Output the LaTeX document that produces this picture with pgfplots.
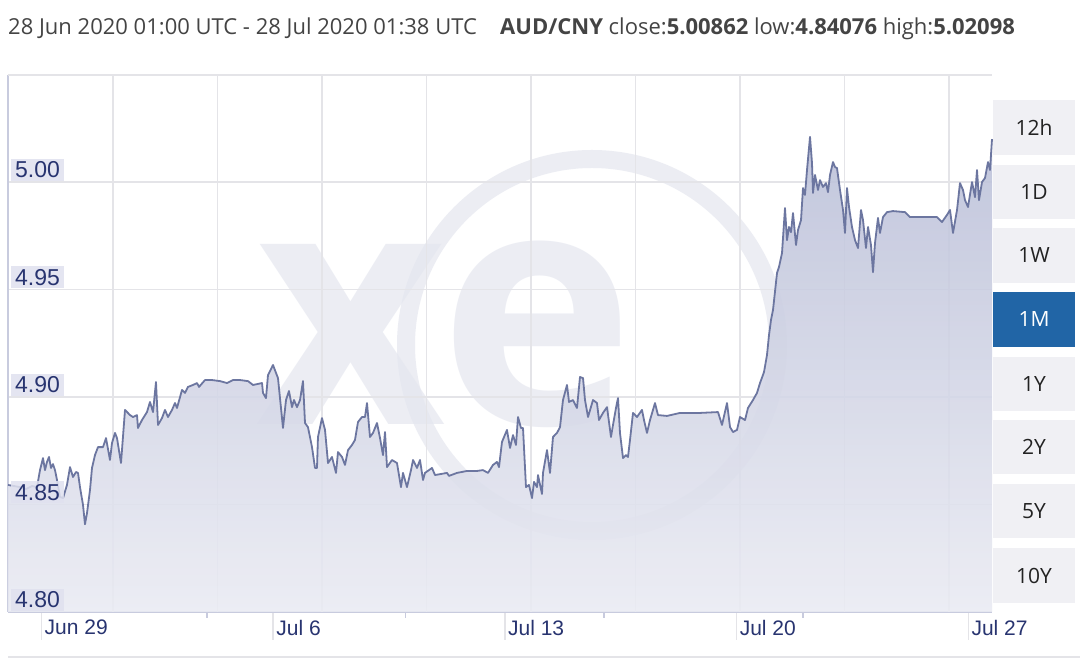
\documentclass[border=0pt]{standalone}
\usepackage{fontspec}
\setmainfont{Open Sans}
\newfontfamily\arialf{Liberation Sans}
\usepackage{pgfplots}
\usepackage{pgfplotstable}
\pgfplotsset{compat=1.18}
\definecolor{titlegray}{RGB}{68,68,68}
\definecolor{navy}{RGB}{40,52,112}
\definecolor{linec}{RGB}{108,118,160}
\definecolor{filltop}{RGB}{186,191,216}
\definecolor{fillbot}{RGB}{234,235,243}
\definecolor{gridc}{RGB}{228,228,232}
\definecolor{labbg}{RGB}{224,225,239}
\definecolor{btnbg}{RGB}{240,240,244}
\definecolor{btnsel}{RGB}{33,101,166}
\definecolor{axisc}{RGB}{200,203,222}
\definecolor{wm}{RGB}{228,230,239}
\definecolor{btntext}{RGB}{34,34,34}
\tikzset{ylab/.style={anchor=south west, xshift=3pt, yshift=1pt, text=navy, font=\arialf\fontsize{23}{23}\selectfont, fill=labbg, fill opacity=0.85, text opacity=1, inner xsep=4pt, inner ysep=3pt, text height=16pt, text depth=0pt}}

\pgfplotstableread{
d v
-0.012 4.8591
0.169 4.8586
0.350 4.8581
0.532 4.8572
0.713 4.8586
0.864 4.8581
0.955 4.8660
1.045 4.8716
1.106 4.8660
1.166 4.8698
1.227 4.8721
1.287 4.8670
1.347 4.8688
1.408 4.8660
1.468 4.8614
1.559 4.8535
1.650 4.8530
1.770 4.8591
1.861 4.8674
1.952 4.8628
2.042 4.8651
2.103 4.8647
2.163 4.8581
2.254 4.8498
2.314 4.8408
2.375 4.8460
2.465 4.8567
2.526 4.8670
2.616 4.8730
2.707 4.8767
2.858 4.8767
2.949 4.8809
3.069 4.8707
3.130 4.8786
3.221 4.8833
3.281 4.8809
3.402 4.8693
3.523 4.8940
3.674 4.8916
3.764 4.8907
3.885 4.8916
3.915 4.8856
4.036 4.8893
4.187 4.8930
4.278 4.8977
4.369 4.8930
4.459 4.9070
4.520 4.8870
4.640 4.8902
4.731 4.8940
4.822 4.8907
4.943 4.8940
5.033 4.8972
5.094 4.8949
5.245 4.9033
5.335 4.9019
5.426 4.9047
5.577 4.9056
5.698 4.9065
5.758 4.9047
5.940 4.9079
6.151 4.9079
6.393 4.9074
6.604 4.9065
6.785 4.9079
6.997 4.9079
7.239 4.9074
7.390 4.9056
7.662 4.9065
7.692 4.9019
7.782 4.8995
7.843 4.9102
7.994 4.9149
8.085 4.9112
8.145 4.9088
8.296 4.8856
8.387 4.8986
8.477 4.9028
8.568 4.8953
8.628 4.8986
8.719 4.8953
8.810 4.8986
8.900 4.9074
8.961 4.8879
9.051 4.8860
9.172 4.8767
9.263 4.8670
9.323 4.8670
9.353 4.8814
9.474 4.8902
9.565 4.8847
9.656 4.8693
9.776 4.8721
9.897 4.8647
9.958 4.8744
10.079 4.8721
10.169 4.8684
10.260 4.8753
10.381 4.8777
10.471 4.8800
10.562 4.8884
10.683 4.8907
10.773 4.8907
10.834 4.8972
10.924 4.8814
11.015 4.8833
11.136 4.8879
11.227 4.8809
11.317 4.8730
11.378 4.8837
11.438 4.8674
11.589 4.8707
11.740 4.8693
11.861 4.8581
11.921 4.8647
12.042 4.8581
12.163 4.8660
12.224 4.8707
12.344 4.8670
12.435 4.8707
12.526 4.8614
12.586 4.8647
12.798 4.8670
12.888 4.8637
13.251 4.8647
13.311 4.8633
13.553 4.8647
13.855 4.8656
14.157 4.8656
14.338 4.8660
14.489 4.8647
14.640 4.8684
14.761 4.8698
14.822 4.8674
14.912 4.8791
15.063 4.8847
15.154 4.8763
15.245 4.8823
15.335 4.8777
15.396 4.8907
15.486 4.8856
15.547 4.8856
15.637 4.8581
15.728 4.8591
15.819 4.8530
15.879 4.8605
15.970 4.8581
16.000 4.8637
16.121 4.8549
16.151 4.8647
16.272 4.8753
16.363 4.8647
16.453 4.8814
16.574 4.8833
16.665 4.8860
16.755 4.8986
16.876 4.9056
16.937 4.8977
17.057 4.8986
17.178 4.8949
17.269 4.9093
17.360 4.9088
17.420 4.8986
17.511 4.8907
17.662 4.8986
17.782 4.8972
17.843 4.8893
17.964 4.8926
18.085 4.8953
18.205 4.8814
18.266 4.8870
18.356 4.8949
18.417 4.8995
18.477 4.8833
18.568 4.8716
18.659 4.8730
18.719 4.8721
18.779 4.8800
18.870 4.8926
18.991 4.8907
19.142 4.8940
19.202 4.8893
19.293 4.8833
19.384 4.8893
19.535 4.8972
19.625 4.8916
19.897 4.8912
20.290 4.8926
20.894 4.8926
21.438 4.8930
21.559 4.8870
21.710 4.8972
21.801 4.8860
21.891 4.8837
22.012 4.8847
22.103 4.8907
22.254 4.8893
22.344 4.8949
22.495 4.8986
22.616 4.9019
22.707 4.9065
22.828 4.9116
22.918 4.9195
22.979 4.9288
23.039 4.9358
23.100 4.9405
23.221 4.9577
23.281 4.9605
23.372 4.9670
23.462 4.9879
23.523 4.9730
23.583 4.9791
23.644 4.9767
23.704 4.9856
23.795 4.9707
23.855 4.9777
23.946 4.9823
24.006 4.9972
24.066 4.9940
24.127 5.0056
24.218 5.0210
24.278 5.0088
24.308 4.9949
24.369 5.0033
24.459 4.9963
24.520 5.0009
24.610 4.9977
24.701 4.9995
24.761 4.9953
24.822 5.0033
24.912 5.0093
24.973 5.0070
25.033 5.0065
25.124 4.9963
25.215 4.9870
25.275 4.9763
25.335 4.9972
25.396 4.9884
25.486 4.9791
25.577 4.9730
25.668 4.9693
25.758 4.9870
25.819 4.9823
25.909 4.9693
25.970 4.9791
26.060 4.9707
26.121 4.9581
26.181 4.9716
26.272 4.9833
26.332 4.9763
26.423 4.9837
26.544 4.9860
26.725 4.9865
27.088 4.9860
27.239 4.9837
27.541 4.9837
28.054 4.9837
28.205 4.9814
28.356 4.9847
28.447 4.9870
28.538 4.9763
28.659 4.9870
28.749 4.9995
28.840 4.9963
28.900 4.9916
28.991 4.9884
29.112 5.0000
29.202 4.9930
29.263 5.0056
29.323 4.9916
29.414 5.0000
29.505 5.0019
29.595 5.0093
29.656 5.0056
29.716 5.0200
}\ratetab

\begin{document}
\begin{tikzpicture}[x=1pt,y=1pt]
\path[use as bounding box] (0,0) rectangle (1080,660);
\fill[white] (0,0) rectangle (1080,660);
% watermark
\draw[wm, line width=18pt, opacity=0.7] (592,315) circle (186);
\node[font=\bfseries\fontsize{330}{330}\selectfont, text=wm, opacity=0.7, anchor=base, inner sep=0] at (445,235) {xe};
% title
\node[anchor=base west, inner sep=0, text=titlegray, font=\fontsize{22}{24}\selectfont] at (8,625) {28 Jun 2020 01:00 UTC - 28 Jul 2020 01:38 UTC};
\node[anchor=base west, inner sep=0, text=titlegray, font=\fontsize{22}{24}\selectfont] at (500,625) {\textbf{AUD/CNY} close:\textbf{5.00862} low:\textbf{4.84076} high:\textbf{5.02098}};
% buttons
\foreach \lab/\yt/\yb in {12h/560/505, 1D/495/441, 1W/432/377, 1Y/303/249, 2Y/240/186, 5Y/176/122, 10Y/112/57}{
  \fill[btnbg] (993,\yb) rectangle (1075,\yt);
  \node[text=btntext, font=\fontsize{21}{23}\selectfont, anchor=center] at (1034,{(\yt+\yb)/2}) {\lab};
}
\fill[btnsel] (993,313) rectangle (1075,368);
\node[text=white, font=\fontsize{21}{23}\selectfont, anchor=center] at (1034,340.5) {1M};
% bottom scroll line
\draw[gridc, line width=1.5pt] (8,3) -- (1080,3);

\begin{axis}[
  at={(8pt,48pt)}, anchor=south west,
  scale only axis, width=984pt, height=537pt,
  xmin=-0.012, xmax=29.716, ymin=4.80, ymax=5.0498,
  clip=false,
  axis lines*=left,
  axis line style={draw=axisc, line width=2pt},
  xtick={1,8,15,22,29},
  xticklabels={Jun 29, Jul 6, Jul 13, Jul 20, Jul 27},
  xtick align=outside,
  major tick length=28pt,
  minor xtick={6,12,18,24},
  minor tick length=6pt,
  xtick style={draw=gridc, line width=1.5pt},
  minor x tick style={draw=axisc, line width=1.5pt},
  xticklabel style={anchor=north west, xshift=3pt, yshift=20pt, text=navy, font=\arialf\fontsize{21}{21}\selectfont, inner sep=0pt},
  ytick={4.80,4.85,4.90,4.95,5.00},
  yticklabels={},
  ytick style={draw=none},
  ymajorgrids,
  grid style={draw=gridc, line width=1.6pt},
  extra x ticks={3.157,6.314,9.471,12.628,15.785,18.942,22.099,25.256,28.413},
  extra x tick labels={},
  extra x tick style={grid=major, major tick length=0pt, tick style={draw=none}},
]
\addplot[draw=none, fill opacity=0.88, top color=filltop, bottom color=fillbot] table[x=d,y=v] {\ratetab} \closedcycle;
\addplot[linec, line width=1.8pt, line join=round] table[x=d,y=v] {\ratetab};
\draw[gridc, line width=1.5pt] (rel axis cs:0,1) -- (rel axis cs:1,1);
\node[ylab] at (axis cs:-0.012,4.80) {4.80};
\node[ylab] at (axis cs:-0.012,4.85) {4.85};
\node[ylab] at (axis cs:-0.012,4.90) {4.90};
\node[ylab] at (axis cs:-0.012,4.95) {4.95};
\node[ylab] at (axis cs:-0.012,5.00) {5.00};
\end{axis}
\end{tikzpicture}
\end{document}
